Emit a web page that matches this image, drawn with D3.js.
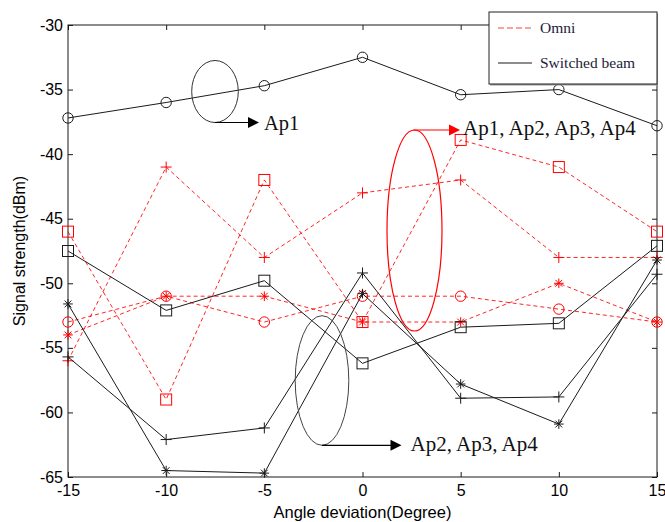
<!DOCTYPE html>
<html>
<head>
<meta charset="utf-8">
<script src="https://cdn.jsdelivr.net/npm/d3@7"></script>
<style>
  html, body { margin: 0; padding: 0; background: #fff; }
  svg { display: block; }
</style>
</head>
<body>
<svg id="chart" width="665" height="522"></svg>
<script>
// ---------------- data ----------------
const angles = [-15, -10, -5, 0, 5, 10, 15];
const xTickValues = [-15, -10, -5, 0, 5, 10, 15];
const xTickLabels = ["-15", "-10", "-5", "0", "5", "10", "15"];
const yTickValues = [-30, -35, -40, -45, -50, -55, -60, -65];
const yTickLabels = ["-30", "-35", "-40", "-45", "-50", "-55", "-60", "-65"];

// Omni (red dashed)
const omniSquare = [-46.0, -59.0, -42.0, -53.0, -38.9, -41.0, -46.0];
const omniPlus   = [-56.0, -41.0, -48.0, -43.0, -42.0, -48.0, -48.0];
const omniCircle = [-53.0, -51.0, -53.0, -51.0, -51.0, -52.0, -53.0];
const omniStar   = [-54.0, -51.0, -51.0, -53.0, -53.0, -50.0, -53.0];

// Switched beam (black solid)
const sbCircle = [-37.2, -36.0, -34.7, -32.5, -35.4, -35.0, -37.8];
const sbSquare = [-47.5, -52.1, -49.8, -56.2, -53.4, -53.1, -47.1];
const sbPlus   = [-55.7, -62.1, -61.2, -49.2, -58.9, -58.8, -49.3];
const sbStar   = [-51.6, -64.5, -64.7, -50.8, -57.8, -60.9, -48.2];

const legendLabels = ["Omni", "Switched beam"];
const xTitle = "Angle deviation(Degree)";
const yTitle = "Signal strength(dBm)";

// ---------------- setup ----------------
const svg = d3.select("#chart");
const pL = 68, pR = 657, pT = 25, pB = 477;
const x = d3.scaleLinear().domain([-15, 15]).range([pL, pR]);
const y = d3.scaleLinear().domain([-65, -30]).range([pB, pT]);

const RED = "#ff0000";
const BLACK = "#1a1a1a";
const DASH = "4,3";

// ---------------- axes ----------------
const axisFont = "'Liberation Sans', Arial, sans-serif";

const xAxis = d3.axisBottom(x).tickValues(xTickValues)
  .tickFormat((d, i) => xTickLabels[i]).tickSizeInner(-5).tickSizeOuter(0).tickPadding(8);
const xAxisTop = d3.axisTop(x).tickValues(xTickValues)
  .tickFormat("").tickSizeInner(-5).tickSizeOuter(0);
const yAxis = d3.axisLeft(y).tickValues(yTickValues)
  .tickFormat((d, i) => yTickLabels[i]).tickSizeInner(-5).tickSizeOuter(0).tickPadding(5);
const yAxisRight = d3.axisRight(y).tickValues(yTickValues)
  .tickFormat("").tickSizeInner(-5).tickSizeOuter(0);

function styleAxis(g) {
  g.selectAll("path.domain").remove();
  g.selectAll("line").attr("stroke", BLACK).attr("stroke-width", 1);
  g.selectAll("text").attr("fill", "#000").style("font-family", axisFont).style("font-size", "16px");
}

svg.append("g").attr("transform", `translate(0,${pB})`).call(xAxis).call(styleAxis);
svg.append("g").attr("transform", `translate(0,${pT})`).call(xAxisTop).call(styleAxis);
svg.append("g").attr("transform", `translate(${pL},0)`).call(yAxis).call(styleAxis);
svg.append("g").attr("transform", `translate(${pR},0)`).call(yAxisRight).call(styleAxis);

// frame
svg.append("rect")
  .attr("x", pL).attr("y", pT)
  .attr("width", pR - pL).attr("height", pB - pT)
  .attr("fill", "none").attr("stroke", BLACK).attr("stroke-width", 1);

// axis titles
svg.append("text")
  .attr("x", (pL + pR) / 2).attr("y", 518)
  .attr("text-anchor", "middle")
  .style("font-family", axisFont).style("font-size", "16.5px")
  .text(xTitle);
svg.append("text")
  .attr("transform", `translate(25,${(pT + pB) / 2}) rotate(-90)`)
  .attr("text-anchor", "middle")
  .style("font-family", axisFont).style("font-size", "16px")
  .text(yTitle);

// ---------------- series ----------------
const line = d3.line().x((d, i) => x(angles[i])).y(d => y(d));
const plot = svg.append("g");

function marker(g, type, cx, cy, color) {
  if (type === "circle") {
    g.append("circle").attr("cx", cx).attr("cy", cy).attr("r", 5.2)
      .attr("fill", "none").attr("stroke", color).attr("stroke-width", 1);
  } else if (type === "square") {
    const h = 5.5;
    g.append("rect").attr("x", cx - h).attr("y", cy - h).attr("width", 2 * h).attr("height", 2 * h)
      .attr("fill", "none").attr("stroke", color).attr("stroke-width", 1);
  } else if (type === "plus") {
    const h = 5.5;
    g.append("path").attr("d", `M${cx - h},${cy}H${cx + h}M${cx},${cy - h}V${cy + h}`)
      .attr("stroke", color).attr("stroke-width", 1).attr("fill", "none");
  } else if (type === "star") {
    const h = 4.8, d = 3.4;
    g.append("path").attr("d",
      `M${cx - h},${cy}H${cx + h}M${cx},${cy - h}V${cy + h}` +
      `M${cx - d},${cy - d}L${cx + d},${cy + d}M${cx - d},${cy + d}L${cx + d},${cy - d}`)
      .attr("stroke", color).attr("stroke-width", 1).attr("fill", "none");
  }
}

const series = [
  { data: omniSquare, type: "square", color: RED, dash: DASH },
  { data: omniPlus, type: "plus", color: RED, dash: DASH },
  { data: omniCircle, type: "circle", color: RED, dash: DASH },
  { data: omniStar, type: "star", color: RED, dash: DASH },
  { data: sbCircle, type: "circle", color: BLACK, dash: null },
  { data: sbSquare, type: "square", color: BLACK, dash: null },
  { data: sbPlus, type: "plus", color: BLACK, dash: null },
  { data: sbStar, type: "star", color: BLACK, dash: null }
];

series.forEach(s => {
  const p = plot.append("path").datum(s.data).attr("d", line)
    .attr("fill", "none").attr("stroke", s.color).attr("stroke-width", 1);
  if (s.dash) p.attr("stroke-dasharray", s.dash).attr("stroke-opacity", 0.85);
  s.data.forEach((v, i) => marker(plot, s.type, x(angles[i]), y(v), s.color));
});

// ---------------- annotations ----------------
const serif = "'Liberation Serif', 'Times New Roman', serif";
const ann = svg.append("g");

function arrow(g, x1, yy, x2, color) {
  g.append("line").attr("x1", x1).attr("y1", yy).attr("x2", x2 - 10).attr("y2", yy)
    .attr("stroke", color).attr("stroke-width", 1.2);
  g.append("path").attr("d", `M${x2 - 11},${yy - 5.5}L${x2},${yy}L${x2 - 11},${yy + 5.5}Z`)
    .attr("fill", color);
}

// Ap1
ann.append("ellipse").attr("cx", 215).attr("cy", 91.5).attr("rx", 23.3).attr("ry", 31)
  .attr("fill", "none").attr("stroke", "#333").attr("stroke-width", 1);
arrow(ann, 215, 122.5, 259, "#000");
ann.append("text").attr("x", 264).attr("y", 129.5)
  .style("font-family", serif).style("font-size", "20.5px").attr("fill", "#111").text("Ap1");

// Ap1..Ap4 (red)
ann.append("ellipse").attr("cx", 414.5).attr("cy", 230.5).attr("rx", 27.5).attr("ry", 100.5)
  .attr("fill", "none").attr("stroke", RED).attr("stroke-width", 1.2);
arrow(ann, 413.5, 130, 460, RED);
ann.append("text").attr("x", 463).attr("y", 135)
  .style("font-family", serif).style("font-size", "21px").attr("fill", "#111").text("Ap1, Ap2, Ap3, Ap4");

// Ap2..Ap4
ann.append("ellipse").attr("cx", 322).attr("cy", 380.5).attr("rx", 26.8).attr("ry", 64.8)
  .attr("fill", "none").attr("stroke", "#444").attr("stroke-width", 1);
arrow(ann, 322, 445.3, 401.5, "#000");
ann.append("text").attr("x", 410.5).attr("y", 450.5)
  .style("font-family", serif).style("font-size", "21px").attr("fill", "#111").text("Ap2, Ap3, Ap4");

// ---------------- legend ----------------
const lg = svg.append("g");
lg.append("rect").attr("x", 490).attr("y", 13.5).attr("width", 168).attr("height", 72)
  .attr("fill", "#999");
lg.append("rect").attr("x", 489).attr("y", 12).attr("width", 168).attr("height", 72)
  .attr("fill", "#fff").attr("stroke", "#222").attr("stroke-width", 1);
const legendStyles = [
  { color: RED, dash: DASH, y: 28 },
  { color: BLACK, dash: null, y: 63 }
];
legendLabels.forEach((lab, i) => {
  const st = legendStyles[i];
  const l = lg.append("line").attr("x1", 498).attr("x2", 532).attr("y1", st.y).attr("y2", st.y)
    .attr("stroke", st.color).attr("stroke-width", 1);
  if (st.dash) l.attr("stroke-dasharray", "6,3").attr("stroke-opacity", 0.75);
  lg.append("text").attr("x", 540).attr("y", st.y + 5.3)
    .style("font-family", serif).style("font-size", "15.5px").attr("fill", "#1c1c38").text(lab);
});
</script>
</body>
</html>
